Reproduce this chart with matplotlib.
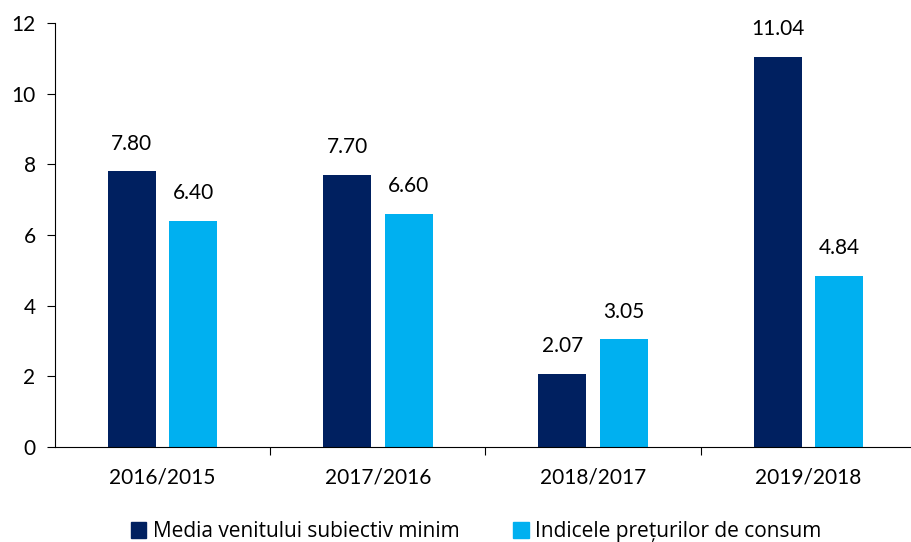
import matplotlib.pyplot as plt
import matplotlib.patches as mpatches
import numpy as np

categories = ["2016/2015", "2017/2016", "2018/2017", "2019/2018"]
venit = [7.80, 7.70, 2.07, 11.04]
ipc = [6.40, 6.60, 3.05, 4.84]
series_names = ["Media venitului subiectiv minim", "Indicele prețurilor de consum"]
colors = ["#002060", "#00B0F0"]

plt.rcParams['font.family'] = ['Lato', 'DejaVu Sans']

fig = plt.figure(figsize=(9.12, 5.42), dpi=100)
ax = fig.add_axes([55/912, 1 - 447/542, (916 - 55)/912, (447 - 23)/542])

x = np.arange(len(categories))
w = 0.223
off = 0.143
b1 = ax.bar(x - off, venit, w, color=colors[0])
b2 = ax.bar(x + off, ipc, w, color=colors[1])

for bars, vals in ((b1, venit), (b2, ipc)):
    for r, v in zip(bars, vals):
        ax.text(r.get_x() + r.get_width()/2, v + 0.5, f"{v:.2f}",
                ha='center', va='bottom', fontsize=15)

ax.set_xlim(-0.5, 3.5)
ax.set_ylim(0, 12)
ax.set_yticks(range(0, 13, 2))
ax.set_xticks(np.arange(0.5, 3.5, 1))
ax.set_xticklabels([])
ax.set_xticks(x, minor=True)
ax.set_xticklabels(categories, minor=True)
ax.tick_params(axis='x', which='minor', length=0, pad=15, labelsize=15)
ax.tick_params(axis='x', which='major', length=6, direction='out')
ax.tick_params(axis='y', length=6, labelsize=15, pad=8)
for s in ['top', 'right']:
    ax.spines[s].set_visible(False)

handles = [mpatches.Patch(color=c, label=n) for c, n in zip(colors, series_names)]
fig.legend(handles=handles, loc='lower center', bbox_to_anchor=(0.522, -0.035), ncol=2,
           frameon=False, handlelength=0.75, handleheight=0.75,
           handletextpad=0.3, columnspacing=2.6,
           prop={'family': ['Open Sans', 'DejaVu Sans'], 'size': 15})

plt.savefig("out.png", dpi=100)
